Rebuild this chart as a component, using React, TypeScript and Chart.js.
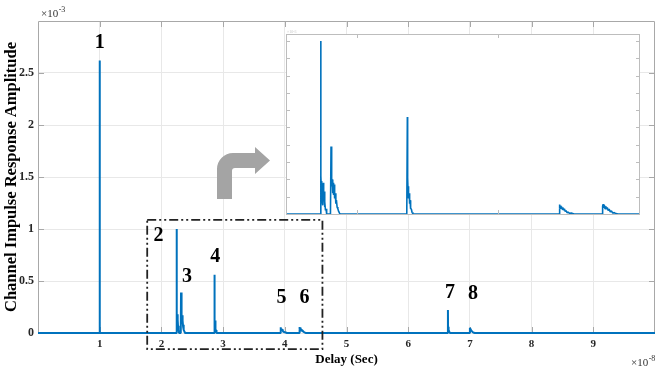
import { useEffect, useRef } from "react";
import { Chart, registerables } from "chart.js";

Chart.register(...registerables);

// Delay is in units of 1e-8 s and amplitude in units of 1e-3
// (the axis multipliers are printed as "×10^-8" and "×10^-3").
type Pt = [number, number];

const path1: Pt[] = [[0.998, 0], [1.0, 2.62], [1.002, 0]];
const path2: Pt[] = [
  [2.243, 0], [2.245, 1.0], [2.247, 0.22], [2.25, 0.14], [2.252, 0.19], [2.255, 0.08],
  [2.258, 0.16], [2.261, 0.05], [2.264, 0.18], [2.266, 0.1], [2.269, 0.13], [2.272, 0.04],
  [2.275, 0.07], [2.279, 0.02], [2.283, 0.03], [2.287, 0],
];
const path3: Pt[] = [
  [2.314, 0], [2.318, 0.39], [2.321, 0.26], [2.324, 0.16], [2.327, 0.2], [2.33, 0.12],
  [2.333, 0.18], [2.336, 0.11], [2.339, 0.17], [2.342, 0.14], [2.345, 0.09], [2.348, 0.12],
  [2.352, 0.06], [2.356, 0.08], [2.361, 0.04], [2.366, 0.03], [2.372, 0.015], [2.378, 0.005],
  [2.383, 0],
];
const path4: Pt[] = [
  [2.853, 0], [2.857, 0.56], [2.859, 0.21], [2.862, 0.13], [2.864, 0.16], [2.867, 0.09],
  [2.87, 0.12], [2.873, 0.06], [2.876, 0.08], [2.88, 0.03], [2.885, 0.03], [2.89, 0.01],
  [2.896, 0],
];
const path5: Pt[] = [
  [3.928, 0], [3.931, 0.055], [3.934, 0.035], [3.938, 0.048], [3.942, 0.03], [3.946, 0.042],
  [3.95, 0.028], [3.955, 0.038], [3.96, 0.022], [3.966, 0.03], [3.972, 0.015], [3.978, 0.02],
  [3.985, 0.008], [3.993, 0.01], [4.003, 0.004], [4.015, 0.005], [4.035, 0],
];
const path6: Pt[] = [
  [4.232, 0], [4.236, 0.045], [4.24, 0.057], [4.244, 0.035], [4.248, 0.052], [4.253, 0.03],
  [4.258, 0.045], [4.263, 0.028], [4.269, 0.038], [4.275, 0.02], [4.282, 0.028], [4.29, 0.012],
  [4.298, 0.018], [4.307, 0.006], [4.318, 0.008], [4.33, 0.002], [4.345, 0],
];
const path7: Pt[] = [
  [6.64, 0], [6.644, 0.22], [6.646, 0.06], [6.649, 0.03], [6.652, 0.05], [6.656, 0.02],
  [6.661, 0.03], [6.667, 0.01], [6.673, 0],
];
const path8: Pt[] = [
  [6.996, 0], [7.0, 0.05], [7.006, 0.04], [7.012, 0.034], [7.02, 0.025], [7.03, 0.018],
  [7.04, 0.012], [7.052, 0.006], [7.065, 0.002], [7.08, 0],
];

const paths = [path1, path2, path3, path4, path5, path6, path7, path8];
const pathNames = ["1", "2", "3", "4", "5", "6", "7", "8"];

const delayRange = [0, 10];
const amplitudeRange = [0, 3];
const delayTicks = [1, 2, 3, 4, 5, 6, 7, 8, 9];
const amplitudeTicks = [0, 0.5, 1, 1.5, 2, 2.5];

const insetDelayRange = [2, 4.5];
const insetAmplitudeRange = [0, 1.04];
const insetDelayTicks = [2.5, 3.5];
const insetAmplitudeTicks = [0.1, 0.2, 0.3, 0.4, 0.5, 0.6, 0.7, 0.8, 0.9, 1.0];

// region of the main axes that the inset enlarges
const zoomFrame = { x0: 1.77, x1: 4.61, y0: -0.155, y1: 1.087 };

// pixel offsets of each path number from the top of its spike
const labelOffsets: Pt[] = [[0, -18], [-18, 7], [6, -16], [1, -18], [1, -29], [5, -29], [2, -17], [3, -34]];

const impulseResponse = [
  { x: delayRange[0], y: 0 },
  ...paths.flatMap((p) => p.map(([x, y]) => ({ x, y }))),
  { x: delayRange[1], y: 0 },
];

const SERIF = "'Liberation Serif', 'Times New Roman', serif";
const LINE = "#0072BD";
const GRID = "#e8e8e8";
const BOX = "#a8a8a8";

function drawExponent(ctx: CanvasRenderingContext2D, x: number, y: number, exp: string) {
  ctx.fillStyle = "#333";
  ctx.textAlign = "left";
  ctx.textBaseline = "alphabetic";
  ctx.font = `11px ${SERIF}`;
  ctx.fillText("×10", x, y);
  const w = ctx.measureText("×10").width;
  ctx.font = `8px ${SERIF}`;
  ctx.fillText(exp, x + w + 0.5, y - 5);
}

const mainDecor = {
  id: "mainDecor",
  beforeDatasetsDraw(chart: any) {
    const { ctx, chartArea: a, scales } = chart;
    ctx.save();
    ctx.strokeStyle = BOX;
    ctx.lineWidth = 1;
    ctx.beginPath();
    ctx.moveTo(a.left + 0.5, a.bottom);
    ctx.lineTo(a.left + 0.5, a.top + 0.5);
    ctx.lineTo(a.right - 0.5, a.top + 0.5);
    ctx.lineTo(a.right - 0.5, a.bottom);
    ctx.stroke();
    ctx.beginPath();
    for (const v of delayTicks) {
      const px = Math.round(scales.x.getPixelForValue(v)) + 0.5;
      ctx.moveTo(px, a.top);
      ctx.lineTo(px, a.top + 6);
      ctx.moveTo(px, a.bottom);
      ctx.lineTo(px, a.bottom - 6);
    }
    for (const v of amplitudeTicks) {
      const py = Math.round(scales.y.getPixelForValue(v)) + 0.5;
      ctx.moveTo(a.left, py);
      ctx.lineTo(a.left + 6, py);
      ctx.moveTo(a.right, py);
      ctx.lineTo(a.right - 6, py);
    }
    ctx.stroke();
    ctx.restore();
  },
  afterDatasetsDraw(chart: any) {
    const { ctx, chartArea: a, scales } = chart;
    const sx = scales.x;
    const sy = scales.y;
    ctx.save();

    // path numbers above their spikes
    ctx.fillStyle = "#000";
    ctx.font = `bold 20px ${SERIF}`;
    ctx.textAlign = "center";
    ctx.textBaseline = "middle";
    paths.forEach((p, i) => {
      const peak = p.reduce((m, q) => (q[1] > m[1] ? q : m), p[0]);
      const px = sx.getPixelForValue(peak[0]) + labelOffsets[i][0];
      const py = sy.getPixelForValue(peak[1]) + labelOffsets[i][1];
      ctx.fillText(pathNames[i], px, py);
    });

    // dash-dot frame around the enlarged region
    const fx0 = sx.getPixelForValue(zoomFrame.x0);
    const fx1 = sx.getPixelForValue(zoomFrame.x1);
    const fy0 = sy.getPixelForValue(zoomFrame.y0);
    const fy1 = sy.getPixelForValue(zoomFrame.y1);
    ctx.strokeStyle = "#222";
    ctx.lineWidth = 1.8;
    ctx.setLineDash([9, 3, 2, 3, 2, 3]);
    ctx.strokeRect(fx0, fy1, fx1 - fx0, fy0 - fy1);
    ctx.setLineDash([]);

    // bent arrow pointing to the inset
    ctx.fillStyle = "#a4a4a4";
    ctx.beginPath();
    ctx.moveTo(217, 199);
    ctx.lineTo(217, 169);
    ctx.arc(233, 169, 16, Math.PI, Math.PI * 1.5);
    ctx.lineTo(255, 153);
    ctx.lineTo(255, 147);
    ctx.lineTo(270, 160.5);
    ctx.lineTo(255, 174);
    ctx.lineTo(255, 168);
    ctx.lineTo(235, 168);
    ctx.arc(235, 171, 3, Math.PI * 1.5, Math.PI, true);
    ctx.lineTo(232, 199);
    ctx.closePath();
    ctx.fill();

    drawExponent(ctx, a.left + 3, 17, "-3");
    drawExponent(ctx, 631, 366, "-8");
    ctx.restore();
  },
};

const insetDecor = {
  id: "insetDecor",
  beforeDraw(chart: any) {
    const { ctx, chartArea: a } = chart;
    ctx.save();
    ctx.fillStyle = "#fff";
    ctx.fillRect(a.left, a.top, a.right - a.left, a.bottom - a.top);
    ctx.restore();
  },
  afterDraw(chart: any) {
    const { ctx, chartArea: a, scales } = chart;
    ctx.save();
    ctx.strokeStyle = "#bdbdbd";
    ctx.lineWidth = 1;
    ctx.strokeRect(a.left + 0.5, a.top + 0.5, a.right - a.left - 1, a.bottom - a.top);
    ctx.beginPath();
    for (const v of insetDelayTicks) {
      const px = Math.round(scales.x.getPixelForValue(v)) + 0.5;
      ctx.moveTo(px, a.top);
      ctx.lineTo(px, a.top + 4);
      ctx.moveTo(px, a.bottom);
      ctx.lineTo(px, a.bottom - 4);
    }
    for (const v of insetAmplitudeTicks) {
      const py = Math.round(scales.y.getPixelForValue(v)) + 0.5;
      ctx.moveTo(a.left, py);
      ctx.lineTo(a.left + 4, py);
      ctx.moveTo(a.right, py);
      ctx.lineTo(a.right - 4, py);
    }
    ctx.stroke();
    ctx.fillStyle = "#c8c8c8";
    ctx.font = `4px ${SERIF}`;
    ctx.textAlign = "left";
    ctx.textBaseline = "alphabetic";
    ctx.fillText("×10-3", a.left + 1, a.top - 1);
    ctx.restore();
  },
};

export default function App() {
  const mainRef = useRef<HTMLCanvasElement>(null);
  const insetRef = useRef<HTMLCanvasElement>(null);

  useEffect(() => {
    document.body.style.margin = "0";
    Chart.defaults.font.family = SERIF;

    const main = new Chart(mainRef.current!, {
      type: "line",
      data: {
        datasets: [
          {
            data: impulseResponse,
            borderColor: LINE,
            borderWidth: 2,
            borderJoinStyle: "bevel",
            pointRadius: 0,
            tension: 0,
            clip: false as any,
          },
        ],
      },
      options: {
        animation: false,
        responsive: false,
        devicePixelRatio: 1,
        parsing: false,
        normalized: true,
        layout: { padding: { top: 21, left: 0, right: 0, bottom: 0 } },
        plugins: { legend: { display: false }, tooltip: { enabled: false } },
        scales: {
          x: {
            type: "linear",
            min: delayRange[0],
            max: delayRange[1],
            afterBuildTicks: (s: any) => {
              s.ticks = delayTicks.map((value) => ({ value }));
            },
            afterFit: (s: any) => {
              s.height = 37;
            },
            grid: { color: GRID, drawTicks: false },
            border: { display: false },
            ticks: {
              padding: 5,
              color: "#262626",
              font: { size: 11, weight: "bold", family: SERIF },
              callback: (v: any) => String(v),
            },
            title: {
              display: true,
              text: "Delay (Sec)",
              color: "#000",
              font: { size: 13, weight: "bold", family: SERIF },
              padding: { top: 0, bottom: 3 },
            },
          },
          y: {
            type: "linear",
            min: amplitudeRange[0],
            max: amplitudeRange[1],
            afterBuildTicks: (s: any) => {
              s.ticks = amplitudeTicks.map((value) => ({ value }));
            },
            afterFit: (s: any) => {
              s.width = 38;
            },
            grid: { color: GRID, drawTicks: false },
            border: { display: false },
            ticks: {
              padding: 4,
              color: "#262626",
              font: { size: 12, weight: "bold", family: SERIF },
              callback: (v: any) => String(v),
            },
            title: {
              display: true,
              text: "Channel Impulse Response Amplitude",
              color: "#000",
              font: { size: 16.5, weight: "bold", family: SERIF },
              padding: { top: 2, bottom: 0 },
            },
          },
        },
      },
      plugins: [mainDecor],
    } as any);

    const inset = new Chart(insetRef.current!, {
      type: "line",
      data: {
        datasets: [
          {
            data: impulseResponse,
            borderColor: LINE,
            borderWidth: 1.6,
            borderJoinStyle: "bevel",
            pointRadius: 0,
            tension: 0,
            clip: { left: 0, top: 0, right: 0, bottom: 2 } as any,
          },
        ],
      },
      options: {
        animation: false,
        responsive: false,
        devicePixelRatio: 1,
        parsing: false,
        normalized: true,
        layout: { padding: { top: 6, left: 2, right: 3, bottom: 3 } },
        plugins: { legend: { display: false }, tooltip: { enabled: false } },
        scales: {
          x: { type: "linear", display: false, min: insetDelayRange[0], max: insetDelayRange[1] },
          y: { type: "linear", display: false, min: insetAmplitudeRange[0], max: insetAmplitudeRange[1] },
        },
      },
      plugins: [insetDecor],
    } as any);

    return () => {
      main.destroy();
      inset.destroy();
    };
  }, []);

  return (
    <div style={{ position: "relative", width: 655, height: 370, background: "#fff", overflow: "hidden" }}>
      <canvas ref={mainRef} width={655} height={370} style={{ position: "absolute", left: 0, top: 0 }} />
      <canvas ref={insetRef} width={359} height={189} style={{ position: "absolute", left: 284, top: 28 }} />
    </div>
  );
}
